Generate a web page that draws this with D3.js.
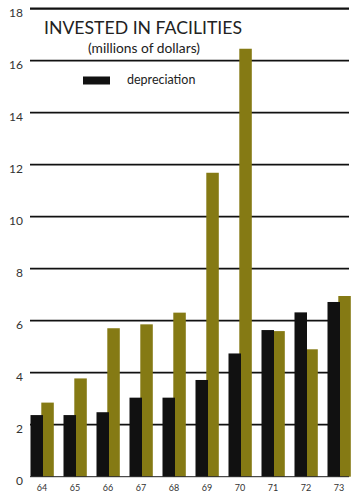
<!DOCTYPE html>
<html>
<head>
<meta charset="utf-8">
<script src="https://cdn.jsdelivr.net/npm/d3@7"></script>
<style>
  body { margin: 0; background: #fff; }
  svg { display: block; font-family: Lato, "Open Sans", sans-serif; }
</style>
</head>
<body>
<div id="chart"></div>
<script>
// Data
const years = ["64", "65", "66", "67", "68", "69", "70", "71", "72", "73"];
const depreciation = [2.37, 2.37, 2.48, 3.04, 3.04, 3.72, 4.74, 5.64, 6.32, 6.72];
const invested = [2.85, 3.78, 5.71, 5.86, 6.31, 11.69, 16.46, 5.6, 4.9, 6.95];
const yTicks = [0, 2, 4, 6, 8, 10, 12, 14, 16, 18];

const width = 353;
const height = 492;

const svg = d3.select("#chart").append("svg")
    .attr("width", width)
    .attr("height", height);

// Scales
const y = d3.scaleLinear().domain([0, 18]).range([476.7, 8.7]);
const x = d3.scaleBand().domain(years).range([30, 360]).paddingInner(0).paddingOuter(0);
const barW = 12.5;

// Gridlines
svg.append("g").selectAll("line")
    .data(yTicks.filter(d => d > 0))
    .join("line")
    .attr("x1", 30).attr("x2", 349)
    .attr("y1", d => y(d)).attr("y2", d => y(d))
    .attr("stroke", "#111")
    .attr("stroke-width", d => d === 18 ? 2.2 : 1.8);

// Y labels
svg.append("g").selectAll("text")
    .data(yTicks)
    .join("text")
    .attr("x", 23)
    .attr("y", d => y(d) + 8)
    .attr("text-anchor", "end")
    .attr("font-size", 12)
    .attr("fill", "#333")
    .text(d => d);

// Bars: depreciation (black) and invested (olive)
const groups = svg.append("g").selectAll("g")
    .data(years)
    .join("g")
    .attr("transform", d => `translate(${x(d)},0)`);

groups.append("rect")
    .attr("x", 11.3)
    .attr("width", barW)
    .attr("y", (d, i) => y(invested[i]))
    .attr("height", (d, i) => y(0) - y(invested[i]))
    .attr("fill", "#857a14");

groups.append("rect")
    .attr("x", 0.5)
    .attr("width", barW)
    .attr("y", (d, i) => y(depreciation[i]))
    .attr("height", (d, i) => y(0) - y(depreciation[i]))
    .attr("fill", "#111");

// Baseline
svg.append("line")
    .attr("x1", 30).attr("x2", 349)
    .attr("y1", y(0)).attr("y2", y(0))
    .attr("stroke", "#222").attr("stroke-width", 1);

// X labels
svg.append("g").selectAll("text")
    .data(years)
    .join("text")
    .attr("x", d => x(d) + 12)
    .attr("y", 491)
    .attr("text-anchor", "middle")
    .attr("font-size", 9)
    .attr("fill", "#333")
    .text(d => d);

// Title
svg.append("text")
    .attr("x", 44).attr("y", 34)
    .attr("font-size", 16.5)
    .attr("fill", "#222")
    .attr("textLength", 198)
    .attr("lengthAdjust", "spacingAndGlyphs")
    .text("INVESTED IN FACILITIES");

svg.append("text")
    .attr("x", 88).attr("y", 53)
    .attr("font-size", 12.5)
    .attr("fill", "#222")
    .attr("textLength", 112)
    .attr("lengthAdjust", "spacingAndGlyphs")
    .text("(millions of dollars)");

// Legend
svg.append("rect")
    .attr("x", 83).attr("y", 76.5)
    .attr("width", 27).attr("height", 8)
    .attr("fill", "#111");

svg.append("text")
    .attr("x", 127).attr("y", 84)
    .attr("font-size", 12.5)
    .attr("fill", "#222")
    .text("depreciation");
</script>
</body>
</html>
